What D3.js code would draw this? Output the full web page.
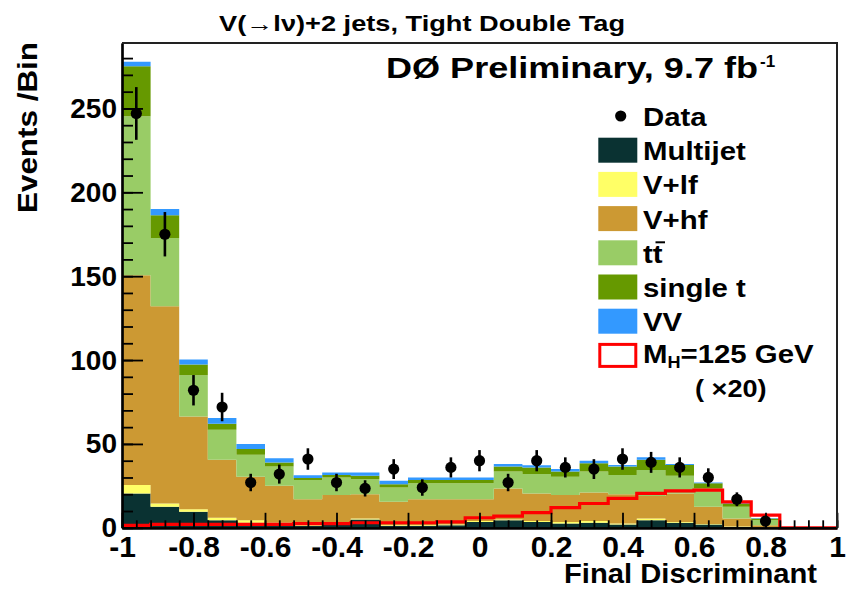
<!DOCTYPE html>
<html><head><meta charset="utf-8">
<script src="https://cdn.jsdelivr.net/npm/d3@7"></script>
<style>
body{margin:0;background:#fff}
text{font-family:"Liberation Sans",Arial,Helvetica,sans-serif;font-weight:bold;fill:#000}
</style>
</head><body><svg id="c" width="846" height="591"></svg>
<script>
// ---- data ----
const binCenters = [-0.96,-0.88,-0.80,-0.72,-0.64,-0.56,-0.48,-0.40,-0.32,-0.24,-0.16,-0.08,0.00,0.08,0.16,0.24,0.32,0.40,0.48,0.56,0.64,0.72,0.80,0.88,0.96];
const binWidth = 0.08;
const multijet = [20.5,12.5,9.5,4.5,3,2,1,2,5,1,1,1.5,3.5,4.5,3.5,2.5,3,2,4.5,3,2,0.5,0.2,0,0];
const vlf      = [5,2,1.5,1.5,1.5,1,0.5,0.3,0.5,0.5,0.5,0.5,0.5,0.5,0.5,1,1,0.5,1,0.5,0.3,0.3,0.1,0,0];
const vhf      = [125,117.5,55.4,34.5,26,22,15.5,17.2,14.5,14,15.5,15,13,18.5,16.5,16,17,17.5,13.5,17,10.2,4.7,1.2,0,0];
const ttbar    = [94.9,40.8,24.6,18,13,11.5,11.5,10.5,9,8.5,9.5,9.5,9.5,10,11.5,11,12.5,11.5,15.5,10.5,11,7,3,0,0];
const singleTop= [29.7,13.5,6.4,3.5,3.5,2.5,1.2,1.5,2,2,2,2,2,3,4,3,5,5,6,6.5,3,2,1,0,0];
const diboson  = [2.7,3.7,3,3.5,3,2.5,1.6,1.4,2,2,1.5,1.5,1.5,1.5,1.3,1.5,1.5,1,1.5,0.5,0.5,0.5,0.3,0,0];
const dataCounts = [247,175,82,72,27,32,41,27,23.5,35,24,36,40,27,40,36,35,41,39,36,30,17,4,0,0];
const signalX20 = [1.5,2,2,2,2,2,2.5,2.5,3,3,3,3.5,6,7,9,12,14.5,17.5,20.5,22,22.5,15.5,7.5,0,0];
const xTickValues = [-1,-0.8,-0.6,-0.4,-0.2,0,0.2,0.4,0.6,0.8,1];
const xTickLabels = ["-1","-0.8","-0.6","-0.4","-0.2","0","0.2","0.4","0.6","0.8","1"];
const yTickValues = [0,50,100,150,200,250];
const yTickLabels = ["0","50","100","150","200","250"];
const bgKeys   = ["Multijet","V+lf","V+hf","ttbar","single t","VV"];
const bgColors = ["#0a3232","#ffff66","#cc9933","#99cc66","#669900","#3399ff"];

// ---- chart ----
const svg = d3.select("#c");
const x = d3.scaleLinear().domain([-1,1]).range([122,837]);
const y = d3.scaleLinear().domain([0,289]).range([527.8,43]);

const series = [multijet,vlf,vhf,ttbar,singleTop,diboson];
const table = binCenters.map((c,i)=>{const o={c}; bgKeys.forEach((k,j)=>o[k]=series[j][i]); return o;});
const stack = d3.stack().keys(bgKeys)(table);

// step-area helper: points at bin low edges + final edge
function stepPoints(vals){
  const pts = binCenters.map((c,i)=>({x:c-binWidth/2, v:vals[i]}));
  pts.push({x:binCenters[binCenters.length-1]+binWidth/2, v:vals[vals.length-1]});
  return pts;
}
stack.forEach((layer,j)=>{
  const lo = layer.map(d=>d[0]), hi = layer.map(d=>d[1]);
  const pl = stepPoints(lo), ph = stepPoints(hi);
  const pts = ph.map((p,i)=>({x:p.x, y0:pl[i].v, y1:p.v}));
  svg.append("path").datum(pts)
    .attr("d", d3.area().curve(d3.curveStepAfter).x(d=>x(d.x)).y0(d=>y(d.y0)).y1(d=>y(d.y1)))
    .attr("fill", bgColors[j]).attr("stroke","none");
});

// signal line
svg.append("path").datum(stepPoints(signalX20))
  .attr("d", d3.line().curve(d3.curveStepAfter).x(d=>x(d.x)).y(d=>y(d.v)))
  .attr("fill","none").attr("stroke","#ff0000").attr("stroke-width",3.2);

// axes
const yMinor = d3.range(0,290,10);
const xMinor = d3.range(0,51).map(i=>-1+i*0.04);
const gy1 = svg.append("g").attr("transform","translate(122,0)")
  .call(d3.axisLeft(y).tickValues(yMinor).tickSize(-11).tickSizeOuter(0).tickFormat(""));
const gy2 = svg.append("g").attr("transform","translate(122,0)")
  .call(d3.axisLeft(y).tickValues(yTickValues).tickSize(-21).tickSizeOuter(0).tickPadding(5)
    .tickFormat((d,i)=>yTickLabels[i]));
const gx1 = svg.append("g").attr("transform","translate(0,527.8)")
  .call(d3.axisBottom(x).tickValues(xMinor).tickSize(-7.5).tickSizeOuter(0).tickFormat(""));
const gx2 = svg.append("g").attr("transform","translate(0,527.8)")
  .call(d3.axisBottom(x).tickValues(xTickValues).tickSize(-15).tickSizeOuter(0).tickPadding(8)
    .tickFormat((d,i)=>xTickLabels[i]));
[gy1,gy2,gx1,gx2].forEach(g=>{
  g.selectAll(".tick line").attr("stroke","#000").attr("stroke-width",1.8);
  g.select(".domain").attr("stroke","#000").attr("stroke-width",2.2);
});
gy2.selectAll("text").style("font-size","28px").style("font-family",'"Liberation Sans",Arial,sans-serif').style("font-weight","bold");
gx2.selectAll("text").style("font-size","30px").style("font-family",'"Liberation Sans",Arial,sans-serif').style("font-weight","bold");

// frame
svg.append("path").attr("d",`M122,43H837V527.8`).attr("fill","none").attr("stroke","#222").attr("stroke-width",2);

// data points
const pts = binCenters.map((c,i)=>({c, n:dataCounts[i]})).filter(d=>d.n>0);
svg.selectAll(".err").data(pts).enter().append("line")
  .attr("x1",d=>x(d.c)).attr("x2",d=>x(d.c))
  .attr("y1",d=>y(d.n+Math.sqrt(d.n))).attr("y2",d=>y(Math.max(0,d.n-Math.sqrt(d.n))))
  .attr("stroke","#000").attr("stroke-width",2.6);
svg.selectAll(".pt").data(pts).enter().append("circle")
  .attr("cx",d=>x(d.c)).attr("cy",d=>y(d.n)).attr("r",5.6).attr("fill","#000");

// titles
function fitText(sel,w){return sel.attr("textLength",w).attr("lengthAdjust","spacingAndGlyphs");}
fitText(svg.append("text").attr("x",219).attr("y",30.5).style("font-size","22px")
  .text("V(\u2192l\u03bd)+2 jets, Tight Double Tag"),406);
fitText(svg.append("text").attr("x",386).attr("y",78.3).style("font-size","29px")
  .text("D\u00d8 Preliminary, 9.7 fb"),372);
svg.append("text").attr("x",760).attr("y",67).style("font-size","17px").text("-1");
fitText(svg.append("text").attr("x",817).attr("y",583).attr("text-anchor","end").style("font-size","28px")
  .text("Final Discriminant"),253);
fitText(svg.append("text").attr("transform","translate(37,42) rotate(-90)").attr("text-anchor","end")
  .style("font-size","28px").text("Events /Bin"),171);

// legend
const lg = svg.append("g");
const rowH = 34.2, y0 = 116, bx = 598.3, tx = 643;
function legText(t,row){
  return lg.append("text").attr("transform",`translate(${tx},${y0+row*rowH+10}) scale(1.13,1)`).style("font-size","26px").text(t);
}
lg.append("circle").attr("cx",620.7).attr("cy",y0).attr("r",5.6).attr("fill","#000");
legText("Data",0);
const legLabels = ["Multijet","V+lf","V+hf","tt","single t","VV"];
legLabels.forEach((l,i)=>{
  const row=i+1;
  lg.append("rect").attr("x",bx).attr("y",y0+row*rowH-12.5).attr("width",39).attr("height",25).attr("fill",bgColors[i]);
  const t = legText(l,row);
  if(l==="tt"){
    lg.append("line").attr("x1",tx+12.5).attr("x2",tx+22).attr("y1",y0+row*rowH-10.5).attr("y2",y0+row*rowH-10.5)
      .attr("stroke","#000").attr("stroke-width",2);
  }
});
lg.append("rect").attr("x",bx+1.5).attr("y",y0+7*rowH-11).attr("width",36).attr("height",22)
  .attr("fill","#fff").attr("stroke","#ff0000").attr("stroke-width",3);
const mt = lg.append("text").attr("transform",`translate(${tx},${y0+7*rowH+8}) scale(1.13,1)`).style("font-size","26px");
mt.append("tspan").text("M");
mt.append("tspan").attr("dy",5).style("font-size","16px").text("H");
mt.append("tspan").attr("dy",-5).text("=125 GeV");
lg.append("text").attr("transform",`translate(695,397) scale(1.13,1)`).style("font-size","24px").text("( \u00d720)");
</script></body></html>
